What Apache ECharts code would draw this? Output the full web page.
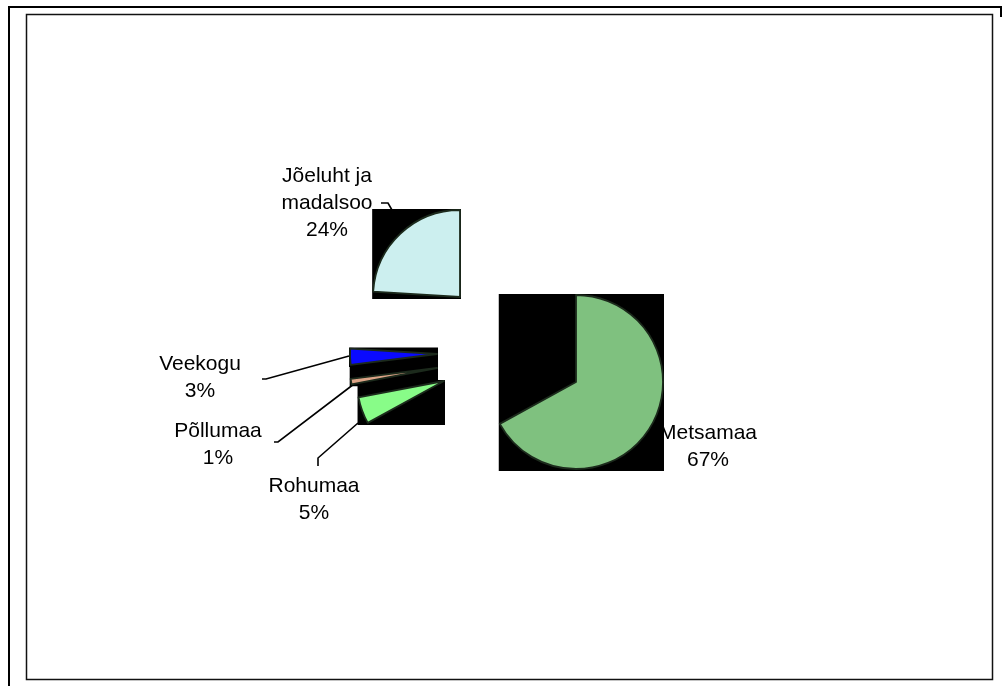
<!DOCTYPE html>
<html>
<head>
<meta charset="UTF-8">
<script src="https://cdn.jsdelivr.net/npm/echarts@6/dist/echarts.min.js"></script>
</head>
<body style="margin:0;background:#ffffff">
<div id="paint" style="width:1003px;height:686px"></div>
<script>
// slices in drawing order (clockwise from 12 o'clock)
var categories = ['Metsamaa', 'Rohumaa', 'Põllumaa', 'Veekogu', 'Jõeluht ja\nmadalsoo'];
var shares = [67, 5, 1, 3, 24];

// looks
var colors = ['#7fc17f', '#88fc88', '#dca487', '#0a0aff', '#ccefef'];
// every slice is pulled out to its own spot
var centers = [[576, 382], [444, 381], [437, 368], [437, 354], [460, 297]];
var radius = 87;
var labelPos = [[708, 447], [314, 500], [218, 445], [200, 378], [327, 203]];
var labelLines = [
    null,
    [[358, 423], [318, 458], [318, 466]],
    [[354, 384], [278, 442], [274, 442]],
    [[349, 356], [266, 379], [262, 379]],
    [[392, 210], [388, 203], [381, 203]]
];

var total = shares.reduce(function (a, b) { return a + b; }, 0);

// black box behind each slice (bounding box of the sector, a little padded)
function sliceBox(c, r, a0, a1) {
    function pt(a) {
        var t = a * Math.PI / 180;
        return [c[0] + r * Math.sin(t), c[1] - r * Math.cos(t)];
    }
    var pts = [c, pt(a0), pt(a1)];
    for (var q = 0; q <= 360; q += 90) {
        if (q > a0 && q < a1) pts.push(pt(q));
    }
    var xs = pts.map(function (p) { return p[0]; });
    var ys = pts.map(function (p) { return p[1]; });
    var x0 = Math.min.apply(null, xs) - 1, y0 = Math.min.apply(null, ys) - 1;
    return { x: x0, y: y0, width: Math.max.apply(null, xs) + 1 - x0, height: Math.max.apply(null, ys) + 2 - y0 };
}

var boxes = [];
var acc = 0;
shares.forEach(function (v, i) {
    var a0 = acc / total * 360;
    acc += v;
    var a1 = acc / total * 360;
    boxes.push({ type: 'rect', z: 1, shape: sliceBox(centers[i], radius, a0, a1), style: { fill: '#000000' } });
});

var frame = [
    { type: 'polyline', z: 1, shape: { points: [[9, 686], [9, 7], [1001, 7], [1001, 17]] },
      style: { stroke: '#000000', lineWidth: 2, fill: null } },
    { type: 'rect', z: 1, shape: { x: 26.5, y: 14.5, width: 966, height: 665 },
      style: { stroke: '#111111', lineWidth: 1.5, fill: null } }
];

var chart = echarts.init(document.getElementById('paint'));
chart.setOption({
    backgroundColor: '#ffffff',
    animation: false,
    graphic: { elements: frame.concat(boxes) },
    series: shares.map(function (v, k) {
        return {
            type: 'pie',
            z: 2,
            silent: true,
            center: centers[k],
            radius: radius,
            startAngle: 90,
            clockwise: true,
            avoidLabelOverlap: false,
            data: shares.map(function (s, i) {
                var on = i === k;
                return {
                    name: categories[i],
                    value: s,
                    itemStyle: on
                        ? { color: colors[i], borderColor: '#1c2a1c', borderWidth: 1.8 }
                        : { color: 'rgba(0,0,0,0)', borderWidth: 0 },
                    label: { show: on },
                    labelLine: { show: on && !!labelLines[i] }
                };
            }),
            label: {
                formatter: function (p) { return p.name + '\n' + Math.round(p.percent) + '%'; },
                fontFamily: 'Liberation Sans, Arial, sans-serif',
                fontSize: 21,
                lineHeight: 27,
                color: '#000000',
                align: 'center'
            },
            labelLine: { smooth: false, lineStyle: { color: '#000000', width: 1.6 } },
            labelLayout: function (p) {
                var out = { x: labelPos[k][0], y: labelPos[k][1], align: 'center', verticalAlign: 'middle' };
                if (labelLines[k]) out.labelLinePoints = labelLines[k];
                return out;
            }
        };
    })
});
</script>
</body>
</html>
